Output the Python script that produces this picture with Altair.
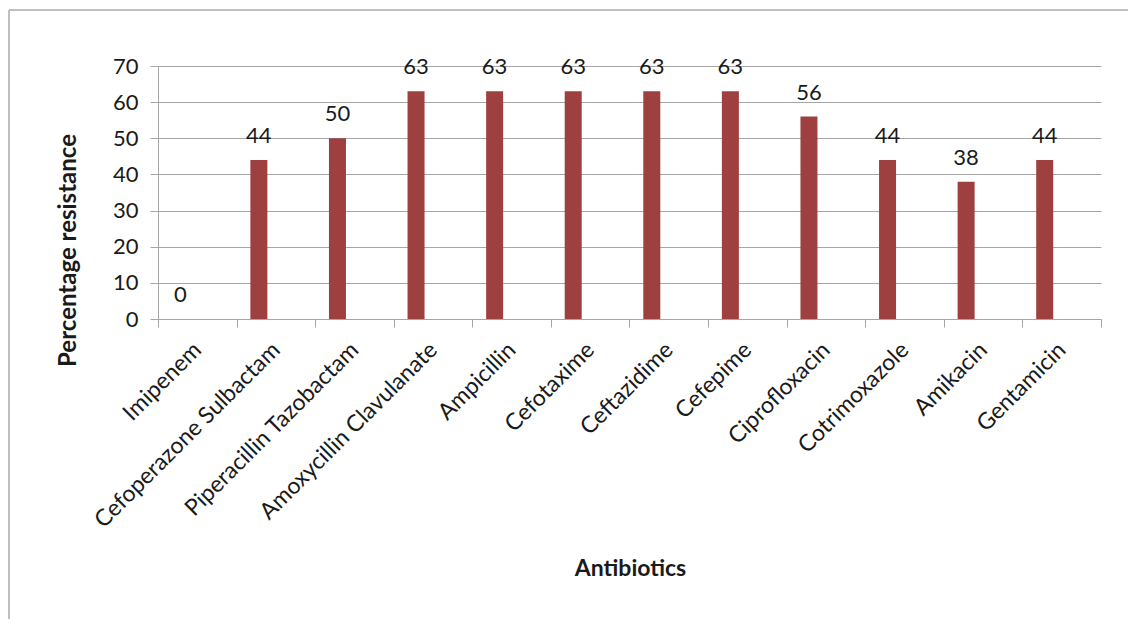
import altair as alt
import pandas as pd

antibiotics = ["Imipenem", "Cefoperazone Sulbactam", "Piperacillin Tazobactam",
               "Amoxycillin Clavulanate", "Ampicillin", "Cefotaxime", "Ceftazidime",
               "Cefepime", "Ciprofloxacin", "Cotrimoxazole", "Amikacin", "Gentamicin"]
resistance = [0, 44, 50, 63, 63, 63, 63, 63, 56, 44, 38, 44]
y_ticks = [0, 10, 20, 30, 40, 50, 60, 70]

df = pd.DataFrame({"Antibiotic": antibiotics, "Resistance": resistance})

FONT = "Lato"
BAR = "#9E4040"
GRID = "#A6A6A6"
TXT = "#1A1A1A"

x_enc = alt.X("Antibiotic:N", sort=antibiotics,
              scale=alt.Scale(paddingInner=0, paddingOuter=0),
              axis=alt.Axis(title="Antibiotics", labelAngle=-45, labelAlign="right",
                            labelBaseline="middle", labelPadding=19, labelFontSize=23,
                            labelFont=FONT, labelColor=TXT, tickBand="extent",
                            tickSize=8, tickColor=GRID, domainColor=GRID,
                            labelLimit=0,
                            titleFont=FONT, titleFontSize=23, titleFontWeight="bold",
                            titleColor=TXT, titleX=472, titleY=249,
                            titleBaseline="middle", titleAlign="center",
                            labelOverlap=False, grid=False))
y_enc = alt.Y("Resistance:Q",
              scale=alt.Scale(domain=[0, 70], nice=False),
              axis=alt.Axis(title="Percentage  resistance", values=y_ticks,
                            labelFontSize=22, labelFont=FONT, labelColor=TXT,
                            labelPadding=12, tickSize=8, tickColor=GRID,
                            domainColor=GRID, gridColor=GRID, grid=True,
                            labelOverlap=False,
                            titleFont=FONT, titleFontSize=24, titleFontWeight="bold",
                            titleColor=TXT, titleX=-90, titleY=184,
                            titleBaseline="middle", titleAlign="center"))

bars = alt.Chart(df).mark_bar(color=BAR, size=17, xOffset=-17).encode(x=x_enc, y=y_enc)
labels = alt.Chart(df).mark_text(font=FONT, fontSize=22, color=TXT, dx=-17, dy=-17,
                                 baseline="alphabetic").encode(
    x=x_enc, y=y_enc, text="Resistance:Q")

one = pd.DataFrame({"a": [0]})
frame_top = alt.Chart(one).mark_rule(stroke="#BFBFBF", strokeWidth=2).encode(
    x=alt.value(-149), x2=alt.value(975), y=alt.value(-56))
frame_left = alt.Chart(one).mark_rule(stroke="#BFBFBF", strokeWidth=2).encode(
    x=alt.value(-149), y=alt.value(-56), y2=alt.value(560))

chart = alt.layer(frame_top, frame_left, bars, labels).properties(
    width=943, height=253,
    autosize=alt.AutoSizeParams(type="none"),
    padding={"left": 150, "top": 58, "right": 27, "bottom": 300},
    background="white"
).configure_view(stroke=None)

chart.save("out.html", embed_options={"renderer": "svg", "actions": False})
